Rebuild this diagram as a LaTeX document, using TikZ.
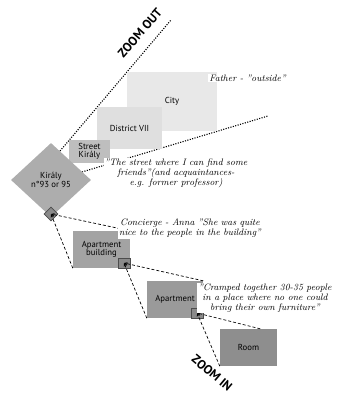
\documentclass[tikz,border=0pt]{standalone}
\usepackage{fontspec}
\setmainfont{Latin Modern Roman}
\setsansfont{PT Sans}
\usetikzlibrary{shapes.geometric,arrows.meta,calc}
\definecolor{cCity}{HTML}{E8E8E8}
\definecolor{cDist}{HTML}{DFDFDF}
\definecolor{cStreet}{HTML}{BEBEBE}
\definecolor{cKir}{HTML}{ADADAD}
\definecolor{cAB}{HTML}{A3A3A3}
\definecolor{cApt}{HTML}{9A9A9A}
\definecolor{cRoom}{HTML}{8E8E8E}
\definecolor{cSmall}{HTML}{8A8A8A}
\begin{document}
\begin{tikzpicture}[x=1pt,y=-1pt,
  box/.style={draw=none, inner sep=0pt, font=\sffamily\fontsize{8.7}{8.5}\selectfont, align=center},
  smallbox/.style={draw=black!70, line width=0.6pt, fill=cSmall, inner sep=0pt},
  lbl/.style={fill=white, inner sep=1pt, font=\itshape\fontsize{9.4}{10}\selectfont, align=center},
  zoomline/.style={line width=1.1pt, dash pattern=on 1.1pt off 1.4pt},
  conn/.style={line width=0.7pt, dash pattern=on 3pt off 2pt, -{Stealth[length=3.5pt,width=3pt]}},
  bigword/.style={font=\sffamily\bfseries\fontsize{12.5}{12.5}\selectfont, inner sep=0pt}
]
\useasboundingbox (0,0) rectangle (337,398);

% zoom-out rays
\coordinate (u0) at (60,151);
\coordinate (u1) at (171,20);
\coordinate (l0) at (82,172);
\coordinate (l1) at (268,116);
\draw[zoomline] (u0) -- (u1);
\draw[zoomline] (l0) -- (l1);

% nested places
\node[box, fill=cCity, minimum width=90pt, minimum height=59pt] (city) at (172,101.5) {City};
\node[box, fill=cDist, minimum width=65pt, minimum height=42pt] (dist) at (129.5,128) {District VII};
\node[box, fill=cStreet, minimum width=41pt, minimum height=23pt] (street) at (89.5,151.5) {Street\\Király};
\node[box, diamond, fill=cKir, minimum width=80pt, minimum height=74pt] (kir) at (51,180) {Király\\n°93 or 95};

% zoom-in chain
\node[box, fill=cAB, minimum width=57pt, minimum height=37pt] (ab) at (101.5,249.5) {Apartment\\building};
\node[box, fill=cApt, minimum width=56pt, minimum height=37pt] (apt) at (175,299.5) {Apartment};
\node[box, fill=cRoom, minimum width=57pt, minimum height=37pt] (room) at (248.5,347.5) {Room};

\node[smallbox, diamond, minimum width=14pt, minimum height=14pt] (sk) at (51,214) {};
\node[smallbox, minimum width=12pt, minimum height=10pt] (sab) at (124,263) {};
\node[smallbox, minimum width=12pt, minimum height=10pt] (sapt) at (197,313) {};
\coordinate (rt) at ($(room.north east)+(-17,0)$);

\draw[conn] (ab.north east) -- (sk.center);
\draw[conn] (ab.south west) -- (sk.center);
\draw[conn] (apt.north east) -- (sab.center);
\draw[conn] (apt.south west) -- (sab.center);
\draw[conn] (rt) -- (sapt.center);
\draw[conn] (room.south west) -- (sapt.center);

% labels
\node[lbl] (father) at (247.5,78) {Father - "outside"};
\node[lbl] (streetlbl) at (176,173) {"The street where I can find some\\friends"(and acquaintances-\\e.g. former professor)};
\node[lbl] (conc) at (190,228.5) {Concierge - Anna "She was quite\\nice to the people in the building"};
\node[lbl] (cramp) at (265,298) {"Cramped together 30-35 people\\in a place where no one could\\bring their own furniture"};

\node[bigword, rotate=49] (zout) at (140,33) {ZOOM OUT};
\node[bigword, rotate=-40] (zin) at (212,373) {ZOOM IN};
\end{tikzpicture}
\end{document}
